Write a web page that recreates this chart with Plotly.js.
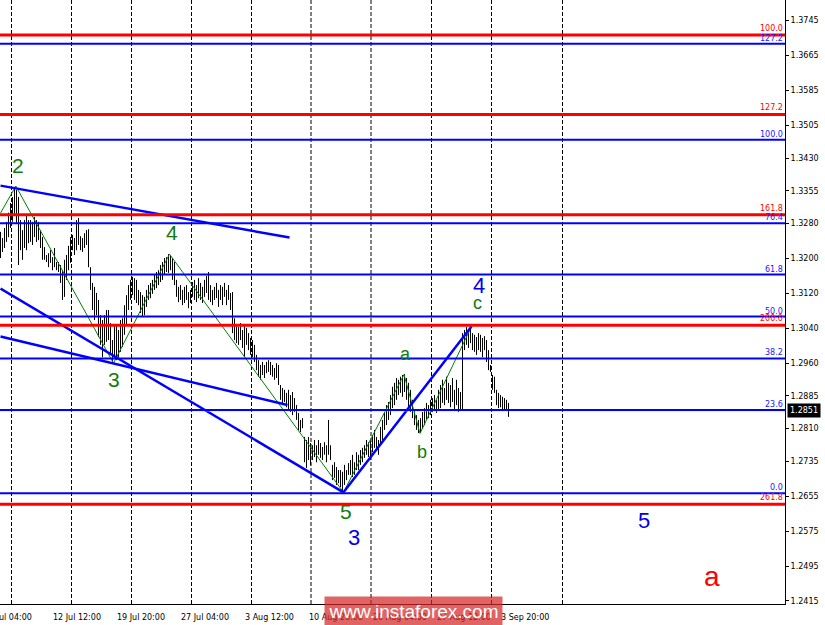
<!DOCTYPE html>
<html><head><meta charset="utf-8">
<script src="https://cdn.plot.ly/plotly-3.0.1.min.js"></script>
<style>html,body{margin:0;padding:0;background:#fff}#chart{width:825px;height:625px}</style>
</head><body><div id="chart"></div>
<script>
// ---------- DATA ----------
const firstBar = 6; // bar index of the first high/low below (H4 bars, bar 0 = 5 Jul 04:00)
const highs = [
1.3261,1.3247,1.3270,1.3284,1.3305,1.3327,1.3341,1.3364,1.3357,1.3341,
1.3288,1.3265,1.3288,1.3300,1.3288,1.3288,1.3284,1.3295,1.3288,1.3284,
1.3265,1.3249,1.3226,1.3208,1.3212,1.3219,1.3203,1.3224,1.3192,1.3192,
1.3185,1.3173,1.3197,1.3208,1.3229,1.3249,1.3254,1.3247,1.3288,1.3293,
1.3251,1.3247,1.3258,1.3265,1.3267,1.3180,1.3144,1.3135,1.3121,1.3105,
1.3070,1.3059,1.3070,1.3082,1.3082,1.3052,1.3013,1.3048,1.3048,1.3036,
1.3059,1.3063,1.3093,1.3116,1.3139,1.3151,1.3158,1.3155,1.3151,1.3128,
1.3123,1.3116,1.3112,1.3128,1.3139,1.3144,1.3151,1.3162,1.3169,1.3173,
1.3185,1.3192,1.3201,1.3203,1.3210,1.3208,1.3201,1.3192,1.3151,1.3135,
1.3139,1.3128,1.3135,1.3139,1.3123,1.3128,1.3146,1.3151,1.3139,1.3155,
1.3144,1.3135,1.3151,1.3160,1.3169,1.3139,1.3128,1.3135,1.3144,1.3128,
1.3139,1.3135,1.3144,1.3128,1.3139,1.3121,1.3123,1.3063,1.3048,1.3043,
1.3052,1.3036,1.3048,1.3041,1.3029,1.3018,1.3013,1.3002,1.2979,1.2967,
1.2956,1.2963,1.2956,1.2963,1.2967,1.2963,1.2956,1.2949,1.2960,1.2956,
1.2910,1.2903,1.2899,1.2892,1.2899,1.2887,1.2894,1.2880,1.2864,1.2846,
1.2830,1.2834,1.2791,1.2784,1.2791,1.2777,1.2772,1.2784,1.2772,1.2784,
1.2777,1.2768,1.2779,1.2772,1.2830,1.2772,1.2727,1.2733,1.2722,1.2715,
1.2715,1.2711,1.2727,1.2715,1.2731,1.2738,1.2750,1.2733,1.2756,1.2750,
1.2761,1.2766,1.2772,1.2784,1.2779,1.2784,1.2795,1.2807,1.2791,1.2784,
1.2814,1.2830,1.2848,1.2864,1.2871,1.2887,1.2906,1.2915,1.2926,1.2922,
1.2929,1.2933,1.2935,1.2926,1.2915,1.2899,1.2876,1.2853,1.2841,1.2830,
1.2834,1.2848,1.2857,1.2869,1.2864,1.2876,1.2880,1.2887,1.2876,1.2899,
1.2910,1.2922,1.2903,1.2929,1.2915,1.2910,1.2926,1.2899,1.2922,1.2903,
1.2894,1.3029,1.3036,1.3043,1.3036,1.3043,1.3029,1.3025,1.3020,1.3029,
1.3025,1.3018,1.3022,1.3013,1.2990,1.2956,1.2933,1.2929,1.2899,1.2892,
1.2887,1.2883,1.2880,1.2876,1.2869];
const lows = [
1.3201,1.3215,1.3224,1.3238,1.3249,1.3270,1.3284,1.3300,1.3281,1.3185,
1.3219,1.3197,1.3224,1.3219,1.3235,1.3238,1.3231,1.3249,1.3238,1.3242,
1.3224,1.3197,1.3197,1.3192,1.3180,1.3190,1.3173,1.3180,1.3173,1.3169,
1.3144,1.3105,1.3112,1.3151,1.3173,1.3190,1.3219,1.3208,1.3219,1.3231,
1.3219,1.3215,1.3224,1.3231,1.3180,1.3128,1.3082,1.3059,1.3070,1.3020,
1.3002,1.2974,1.3002,1.3009,1.3013,1.2979,1.2960,1.2972,1.2967,1.2974,
1.2986,1.2997,1.3025,1.3048,1.3082,1.3105,1.3116,1.3105,1.3098,1.3093,
1.3075,1.3066,1.3070,1.3089,1.3105,1.3109,1.3119,1.3128,1.3132,1.3139,
1.3146,1.3151,1.3162,1.3169,1.3167,1.3173,1.3151,1.3139,1.3112,1.3100,
1.3105,1.3093,1.3098,1.3105,1.3086,1.3098,1.3112,1.3105,1.3100,1.3109,
1.3105,1.3098,1.3112,1.3121,1.3105,1.3100,1.3093,1.3105,1.3109,1.3089,
1.3105,1.3093,1.3112,1.3093,1.3105,1.3082,1.3029,1.3013,1.3006,1.3002,
1.3013,1.2995,1.2974,1.3002,1.2990,1.2979,1.2974,1.2963,1.2944,1.2929,
1.2922,1.2933,1.2926,1.2937,1.2940,1.2933,1.2929,1.2922,1.2926,1.2910,
1.2876,1.2864,1.2871,1.2859,1.2853,1.2848,1.2841,1.2848,1.2830,1.2807,
1.2802,1.2811,1.2733,1.2720,1.2738,1.2726,1.2738,1.2745,1.2733,1.2750,
1.2743,1.2738,1.2750,1.2733,1.2750,1.2738,1.2692,1.2697,1.2681,1.2685,
1.2676,1.2665,1.2681,1.2692,1.2704,1.2704,1.2699,1.2704,1.2715,1.2715,
1.2727,1.2733,1.2743,1.2750,1.2745,1.2738,1.2756,1.2766,1.2761,1.2750,
1.2772,1.2784,1.2807,1.2818,1.2830,1.2841,1.2857,1.2864,1.2876,1.2887,
1.2892,1.2883,1.2894,1.2876,1.2859,1.2848,1.2834,1.2818,1.2807,1.2800,
1.2802,1.2811,1.2818,1.2830,1.2834,1.2841,1.2848,1.2853,1.2846,1.2853,
1.2857,1.2869,1.2864,1.2876,1.2869,1.2859,1.2871,1.2853,1.2864,1.2848,
1.2853,1.2853,1.2990,1.3002,1.2995,1.3006,1.2990,1.2986,1.2979,1.2990,
1.2986,1.2974,1.2990,1.2963,1.2944,1.2940,1.2899,1.2892,1.2864,1.2857,
1.2859,1.2853,1.2855,1.2853,1.2837];
const lastPrice = 1.2851;

const timeLabelBars = [0, 32, 64, 96, 128, 160, 192, 224, 256];
const timeLabels = ["5 Jul 04:00","12 Jul 12:00","19 Jul 20:00","27 Jul 04:00","3 Aug 12:00",
                    "10 Aug 20:00","20 Aug 04:00","27 Aug 12:00","3 Sep 20:00"];
const gridBars = [11.5, 41.5, 71.5, 101.5, 131.5, 161.25, 191.25, 221.5, 251.5, 287];

const yTickVals = [1.2415,1.2495,1.2575,1.2655,1.2735,1.2810,1.2885,1.2960,1.3040,
                   1.3120,1.3200,1.3280,1.3355,1.3430,1.3505,1.3585,1.3665,1.3745];

const blueLevels = [1.2662, 1.2853, 1.2971, 1.3067, 1.3163, 1.3281, 1.3472, 1.3692];
const blueLevelNames = ["0.0","23.6","38.2","50.0","61.8","76.4","100.0","127.2"];
const redLevels = [1.2637, 1.3047, 1.3300, 1.3530, 1.3712];
const redLevelNames = ["261.8","200.0","161.8","127.2","100.0"];

// trend lines (bar index, price)
const trendA_bars = [6, 150.5],  trendA_prices = [1.3367, 1.3248];
const trendB_bars = [6, 177.5],  trendB_prices = [1.3131, 1.2664];
const trendC_bars = [6, 149.5],  trendC_prices = [1.3021, 1.2864];
const trendD_bars = [177.5, 241.5], trendD_prices = [1.2664, 1.3044];

// wave zigzag
const zigBars   = [6, 13.65, 62.5, 90.5, 177.5, 207.75, 215.75, 241.5];
const zigPrices = [1.3304, 1.3366, 1.2960, 1.3210, 1.2664, 1.2934, 1.2799, 1.3044];

// wave labels
const waveText   = ["2","3","4","5","3","a","b","c","4","5","a"];
const waveBars   = [14.5, 62.5, 91.5, 178.5, 182.5, 208.5, 216.5, 244.5, 245, 327.5, 361.5];
const wavePrices = [1.3414, 1.2923, 1.3260, 1.2619, 1.2561, 1.2981, 1.2756, 1.3098, 1.3139, 1.2600, 1.2472];
const waveKind   = ["g","g","g","g","b","gs","gs","gs","b","b","r"];

const watermark = "www.instaforex.com";

// ---------- STYLE ----------
const W = 825, H = 625, mR = 40, mB = 21;
const plotW = W - mR;
const pxPerBar = 2;
const xr = [5.75, 5.75 + plotW / pxPerBar];
const yr = [1.24081, 1.37924];
const BLUE = "#0000ff", RED = "#ff0000", GREEN = "#0c7c0c";
const SMALL = {family: "DejaVu Sans", size: 8};
const kindStyle = {
  g:  {color: GREEN, size: 21},
  gs: {color: GREEN, size: 18},
  b:  {color: "#0000ee", size: 22},
  r:  {color: RED, size: 28}
};
const xPaper = b => (b - xr[0]) / (xr[1] - xr[0]);

// bars as vertical lines
const bx = [], by = [];
highs.forEach((h, k) => { const i = firstBar + k; bx.push(i, i, null); by.push(lows[k], h, null); });

const traces = [
  {type: "scatter", mode: "lines", x: bx, y: by, line: {color: "#000", width: 1}, hoverinfo: "skip"},
  {type: "scatter", mode: "lines", x: zigBars, y: zigPrices, line: {color: "#008000", width: 1}},
  {type: "scatter", mode: "lines", x: trendA_bars, y: trendA_prices, line: {color: BLUE, width: 2.5}},
  {type: "scatter", mode: "lines", x: trendB_bars, y: trendB_prices, line: {color: BLUE, width: 2.5}},
  {type: "scatter", mode: "lines", x: trendC_bars, y: trendC_prices, line: {color: BLUE, width: 2.5}},
  {type: "scatter", mode: "lines", x: trendD_bars, y: trendD_prices, line: {color: BLUE, width: 2.5}}
];

const shapes = [];
gridBars.forEach(b => shapes.push({type: "line", layer: "below", xref: "x", yref: "paper",
  x0: b, x1: b, y0: 0, y1: 1, line: {color: "#000", width: 1, dash: "4px,2px"}}));
shapes.push({type: "line", layer: "above", xref: "paper", yref: "y", x0: 0, x1: 1,
  y0: lastPrice, y1: lastPrice, line: {color: "#c4c4dc", width: 1}});
blueLevels.forEach(v => shapes.push({type: "line", layer: "above", xref: "paper", yref: "y",
  x0: 0, x1: 1, y0: v, y1: v, line: {color: BLUE, width: 2}}));
redLevels.forEach(v => shapes.push({type: "line", layer: "above", xref: "paper", yref: "y",
  x0: 0, x1: 1, y0: v, y1: v, line: {color: RED, width: 3}}));

const ann = [];
blueLevels.forEach((v, k) => ann.push({xref: "paper", yref: "y", x: 1, y: v, xanchor: "right", yanchor: "bottom",
  xshift: -1, yshift: 0, text: blueLevelNames[k], showarrow: false, borderpad: 0, font: {...SMALL, color: "#2020ff"}}));
redLevels.forEach((v, k) => ann.push({xref: "paper", yref: "y", x: 1, y: v, xanchor: "right", yanchor: "bottom",
  xshift: -1, yshift: 1, text: redLevelNames[k], showarrow: false, borderpad: 0, font: {...SMALL, color: RED}}));
ann.push({xref: "paper", yref: "y", x: 1, y: lastPrice, xanchor: "left", yanchor: "middle", xshift: 2,
  text: lastPrice.toFixed(4), showarrow: false, bgcolor: "#000", borderpad: 2, font: {...SMALL, color: "#fff"}});
waveText.forEach((t, k) => { const s = kindStyle[waveKind[k]];
  ann.push({xref: "x", yref: "y", x: waveBars[k], y: wavePrices[k], text: t, showarrow: false,
    xanchor: "center", yanchor: "middle", font: {family: "Liberation Sans", size: s.size, color: s.color}}); });
timeLabelBars.forEach((b, k) => ann.push({xref: "paper", yref: "paper", x: xPaper(b), y: 0, xanchor: "left",
  yanchor: "middle", yshift: -13, text: timeLabels[k], showarrow: false, borderpad: 0, borderwidth: 0,
  font: {...SMALL, color: "#000"}}));
ann.push({xref: "paper", yref: "paper", x: 413 / plotW, y: 0, xanchor: "center", yanchor: "middle", yshift: -7,
  text: watermark, showarrow: false, width: 177, height: 29, bgcolor: "rgba(214,40,40,0.72)", borderpad: 0,
  font: {family: "Liberation Sans", size: 19, color: "#fff"}});

const layout = {
  width: W, height: H, margin: {l: 0, r: mR, t: 0, b: mB, pad: 0},
  paper_bgcolor: "#fff", plot_bgcolor: "#fff", showlegend: false,
  xaxis: {range: xr, showgrid: false, zeroline: false, showticklabels: false, ticks: "",
          showline: true, linecolor: "#000", linewidth: 1, fixedrange: true},
  yaxis: {range: yr, side: "right", showgrid: false, zeroline: false, showline: true, linecolor: "#000",
          linewidth: 1, ticks: "outside", ticklen: 3, tickcolor: "#000", tickvals: yTickVals,
          ticktext: yTickVals.map(v => v.toFixed(4)), tickfont: {...SMALL, color: "#000"}, fixedrange: true},
  shapes: shapes, annotations: ann
};
Plotly.newPlot("chart", traces, layout, {displayModeBar: false, staticPlot: true});
</script></body></html>
